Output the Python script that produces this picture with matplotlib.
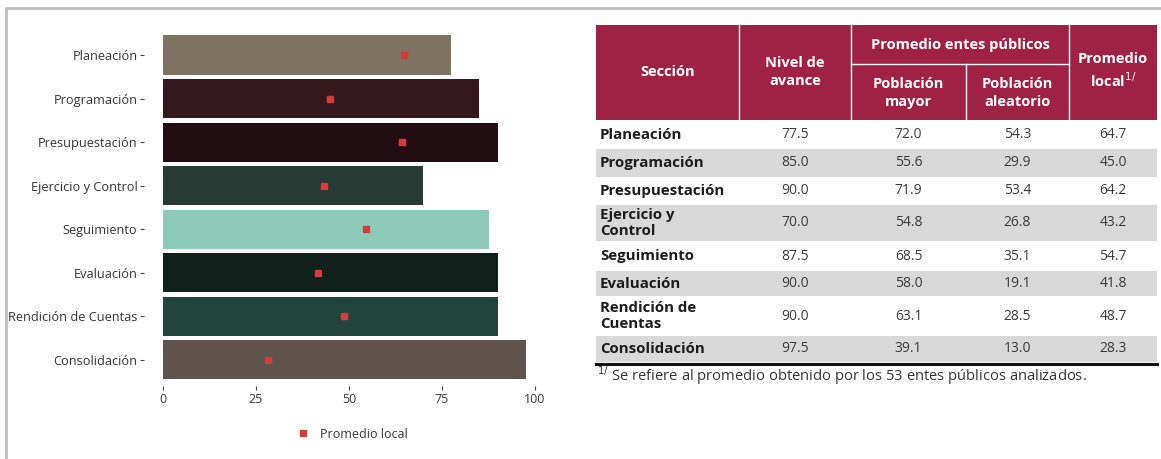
import matplotlib
matplotlib.use("Agg")
import matplotlib.pyplot as plt
from matplotlib.patches import Rectangle

plt.rcParams['font.family'] = ['Open Sans', 'DejaVu Sans']

# ---------------- data ----------------
categories = ["Planeación", "Programación", "Presupuestación", "Ejercicio y Control",
              "Seguimiento", "Evaluación", "Rendición de Cuentas", "Consolidación"]
table_labels = ["Planeación", "Programación", "Presupuestación", "Ejercicio y\nControl",
                "Seguimiento", "Evaluación", "Rendición de\nCuentas", "Consolidación"]
nivel_avance = [77.5, 85.0, 90.0, 70.0, 87.5, 90.0, 90.0, 97.5]
poblacion_mayor = [72.0, 55.6, 71.9, 54.8, 68.5, 58.0, 63.1, 39.1]
poblacion_aleatorio = [54.3, 29.9, 53.4, 26.8, 35.1, 19.1, 28.5, 13.0]
promedio_local = [64.7, 45.0, 64.2, 43.2, 54.7, 41.8, 48.7, 28.3]
x_ticks = [0, 25, 50, 75, 100]
bar_colors = ["#7d7360", "#33191d", "#220d12", "#253b33", "#8ecab8",
              "#10201b", "#22443c", "#5f544d"]
legend_label = "Promedio local"
footnote = "Se refiere al promedio obtenido por los 53 entes públicos analizados."

W, H = 1161, 459
fig = plt.figure(figsize=(W / 100, H / 100), dpi=100)

# ---------------- bar chart ----------------
left, right = 144.4, 553.6
top, bottom = 28.9, 386.0
ax = fig.add_axes([left / W, 1 - bottom / H, (right - left) / W, (bottom - top) / H])
ypos = list(range(len(categories)))
ax.barh(ypos, nivel_avance, height=0.9, color=bar_colors, zorder=2)
ax.plot(promedio_local, ypos, linestyle="none", marker="s", markersize=5,
        color="#d23c3c", zorder=3, label=legend_label)
ax.set_xlim(-5, 105)
ax.set_ylim(len(categories) - 0.4, -0.6)
ax.set_yticks(ypos)
ax.set_yticklabels(categories)
ax.set_xticks(x_ticks)
for s in ax.spines.values():
    s.set_visible(False)
ax.tick_params(axis="y", length=3, width=0.8, color="#444444",
               labelsize=9.2, labelcolor="#333333", pad=2)
ax.tick_params(axis="x", length=3, width=0.8, color="#444444",
               labelsize=9.0, labelcolor="#333333", pad=2)
ax.set_facecolor("white")
ax.legend(loc="upper center", bbox_to_anchor=(0.5, -0.085), frameon=False,
          fontsize=9.0, handletextpad=0.4, labelcolor="#333333")

# ---------------- overlay (frame + table) ----------------
ov = fig.add_axes([0, 0, 1, 1], zorder=-1)
ov.set_xlim(0, W)
ov.set_ylim(H, 0)
ov.axis("off")
ov.plot([6, 6, W], [H, 8, 8], color="#bdbdbd", lw=2, solid_capstyle="butt")

tab = fig.add_axes([0, 0, 1, 1], zorder=3)
tab.set_xlim(0, W)
tab.set_ylim(H, 0)
tab.axis("off")
tab.patch.set_alpha(0)

crimson = "#9f2145"
cols = [596, 739, 851, 966, 1069, 1157]
h_top, h_mid, h_bot = 25, 64, 120
tab.add_patch(Rectangle((cols[0], h_top), cols[-1] - cols[0], h_bot - h_top,
                        color=crimson, lw=0))
for xc in cols[1:3] + cols[4:5]:
    tab.plot([xc, xc], [h_top, h_bot], color="white", lw=1)
tab.plot([cols[3], cols[3]], [h_mid, h_bot], color="white", lw=1)
tab.plot([cols[2], cols[4]], [h_mid, h_mid], color="white", lw=1)

hkw = dict(color="white", fontweight="bold", fontsize=10.5, ha="center",
           va="center", linespacing=1.3)
tab.text((cols[0] + cols[1]) / 2, 72, "Sección", **hkw)
tab.text((cols[1] + cols[2]) / 2, 72, "Nivel de\navance", **hkw)
tab.text((cols[2] + cols[4]) / 2, 45, "Promedio entes públicos", **hkw)
tab.text((cols[2] + cols[3]) / 2, 93, "Población\nmayor", **hkw)
tab.text((cols[3] + cols[4]) / 2, 93, "Población\naleatorio", **hkw)
tab.text((cols[4] + cols[5]) / 2, 71, "Promedio\nlocal$^{1/}$", **hkw)

row_bounds = [121, 148, 177, 204, 241, 270, 296, 335, 362]
for i, lab in enumerate(table_labels):
    y0, y1 = row_bounds[i], row_bounds[i + 1]
    yc = (y0 + y1) / 2
    if i % 2 == 1:
        tab.add_patch(Rectangle((cols[0], y0 + 0.5), cols[-1] - cols[0], y1 - y0 - 1,
                                color="#d9d9d9", lw=0))
    tab.text(600, yc + 0.5, lab, fontsize=10.8, fontweight="bold", color="#1c1c1c",
             ha="left", va="center", linespacing=1.2)
    vals = [nivel_avance[i], poblacion_mayor[i], poblacion_aleatorio[i], promedio_local[i]]
    for j, v in enumerate(vals):
        tab.text((cols[j + 1] + cols[j + 2]) / 2, yc + 0.5, f"{v:.1f}", fontsize=10,
                 color="#3a3a3a", ha="center", va="center")
tab.plot([cols[0], cols[-1]], [363.5, 363.5], color="#111111", lw=2.2)
tab.text(597, 376, "$^{1/}$ " + footnote, fontsize=10.6, color="#333333",
         ha="left", va="center")

fig.savefig("out.png", dpi=100, facecolor="white")
